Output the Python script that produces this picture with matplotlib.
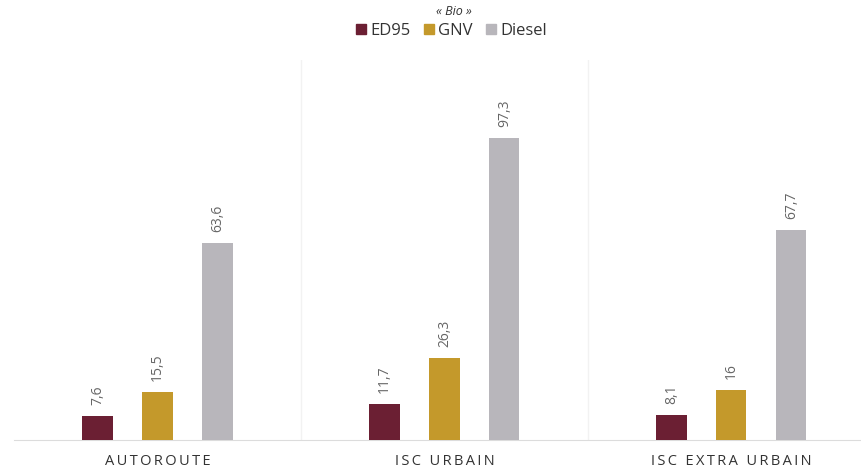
import numpy as np
import matplotlib.pyplot as plt
from matplotlib.patches import Patch

categories = ["AUTOROUTE", "ISC URBAIN", "ISC EXTRA URBAIN"]
series = ["ED95", "GNV", "Diesel"]
ed95 = [7.6, 11.7, 8.1]
gnv = [15.5, 26.3, 16.0]
diesel = [63.6, 97.3, 67.7]
colors = ["#6b1f33", "#c4992b", "#b8b6bb"]

plt.rcParams['font.family'] = ['Open Sans', 'DejaVu Sans']

fig = plt.figure(figsize=(8.62, 4.73), dpi=100)
ax = fig.add_axes([14 / 862, 33 / 473, 1 - 14 / 862, 380 / 473])

x = np.arange(len(categories))
offsets = [-0.209, 0.0, 0.209]
width = 0.105

def fmt(v):
    s = ("%.1f" % v).replace(".", ",")
    if s.endswith(",0"):
        s = s[:-2]
    return s

for vals, off, col in zip([ed95, gnv, diesel], offsets, colors):
    bars = ax.bar(x + off, vals, width, color=col, zorder=3)
    for b, v in zip(bars, vals):
        ax.text(b.get_x() + b.get_width() / 2, v + 3.6, fmt(v), rotation=90,
                ha="center", va="bottom", fontsize=10, color="#666666")

ax.set_xlim(-0.5, 2.455)
ax.set_ylim(0, 122.6)
for sep in [0.5, 1.5]:
    ax.axvline(sep, color="#f2f2f2", lw=1, zorder=1)
for s in ["top", "right", "left"]:
    ax.spines[s].set_visible(False)
ax.spines["bottom"].set_color("#dcdcdc")
ax.set_yticks([])
ax.set_xticks(x)
ax.set_xticklabels(["\u2009".join(c) for c in categories], fontsize=10.5,
                   color="#333333")
ax.tick_params(axis="x", length=0, pad=10)

handles = [Patch(color=c) for c in colors]
fig.legend(handles, series, loc="center", bbox_to_anchor=(0.524, 0.935),
           ncol=3, frameon=False, fontsize=12, handlelength=0.6,
           handleheight=0.6, handletextpad=0.25, columnspacing=0.8,
           labelcolor="#333333")
fig.text(0.527, 0.975, "« Bio »", ha="center", va="center", fontsize=9,
         style="italic", color="#333333")

fig.savefig("out.png", dpi=100)
